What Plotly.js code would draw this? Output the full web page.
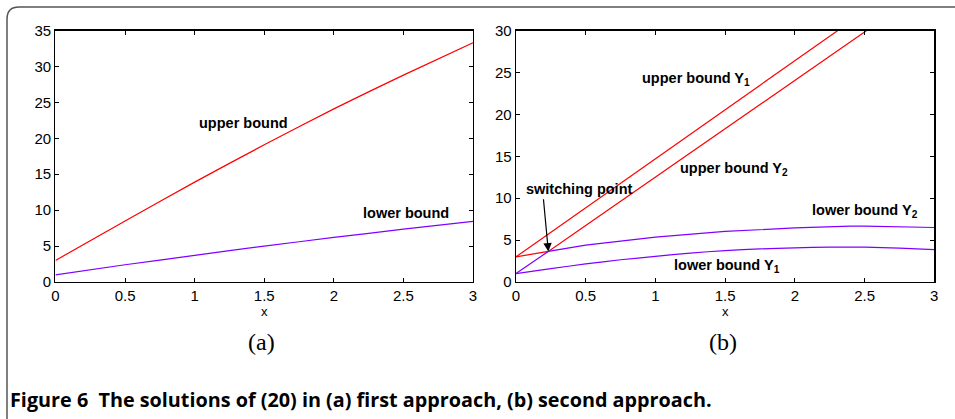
<!DOCTYPE html>
<html><head><meta charset="utf-8">
<script src="https://cdn.plot.ly/plotly-3.0.1.min.js"></script>
<style>html,body{margin:0;padding:0;background:#fff}#chart{width:955px;height:419px}</style>
</head><body><div id="chart"></div>
<script>
// Panel (a)
const xA = [0, 0.5, 1, 1.5, 2, 2.5, 3];
const upperA = [3.0, 8.5, 13.9, 19.1, 24.1, 28.8, 33.3];
const lowerA = [1.0, 2.4, 3.7, 5.0, 6.2, 7.35, 8.45];
// Panel (b)
const xUpperY1 = [0, 0.5, 1, 1.5, 2, 2.5, 3];
const upperY1 = [3.0, 8.85, 14.7, 20.6, 26.45, 32.3, 38.1];
const xUpperY2 = [0, 0.1, 0.232, 0.5, 1, 1.5, 2, 2.5, 3];
const upperY2 = [3.0, 3.25, 3.65, 6.75, 12.5, 18.3, 24.05, 29.8, 35.6];
const xLowerY2 = [0, 0.232, 0.5, 1, 1.5, 2, 2.4, 2.5, 3];
const lowerY2 = [1.0, 3.65, 4.4, 5.36, 6.03, 6.45, 6.67, 6.66, 6.5];
const xLowerY1 = [0, 0.25, 0.5, 0.75, 1, 1.25, 1.5, 1.75, 2, 2.25, 2.5, 2.75, 3];
const lowerY1 = [1.0, 1.6, 2.15, 2.65, 3.05, 3.45, 3.75, 3.95, 4.08, 4.15, 4.15, 4.05, 3.87];
const switchPoint = {x: 0.232, y: 3.65};
const xTicks = [0, 0.5, 1, 1.5, 2, 2.5, 3];
const xTickText = ['0', '0.5', '1', '1.5', '2', '2.5', '3'];

const RED = '#ff0000', PUR = '#8000ff';
const lw = 1.2;
const sp = {shape: 'spline', smoothing: 0.6};
const traces = [
  {x: xA, y: upperA, xaxis: 'x', yaxis: 'y', mode: 'lines', line: Object.assign({color: RED, width: lw}, sp)},
  {x: xA, y: lowerA, xaxis: 'x', yaxis: 'y', mode: 'lines', line: Object.assign({color: PUR, width: lw}, sp)},
  {x: xUpperY1, y: upperY1, xaxis: 'x2', yaxis: 'y2', mode: 'lines', line: {color: RED, width: lw}},
  {x: xUpperY2, y: upperY2, xaxis: 'x2', yaxis: 'y2', mode: 'lines', line: {color: RED, width: lw}},
  {x: xLowerY2, y: lowerY2, xaxis: 'x2', yaxis: 'y2', mode: 'lines', line: {color: PUR, width: lw}},
  {x: xLowerY1, y: lowerY1, xaxis: 'x2', yaxis: 'y2', mode: 'lines', line: Object.assign({color: PUR, width: lw}, sp)}
];

const tickFont = {family: 'Liberation Sans, Arial, sans-serif', size: 15, color: '#000'};
function xax(dom) {
  return {domain: dom, range: [0, 3], tickvals: xTicks, ticktext: xTickText, ticks: 'inside', ticklen: 4,
    tickcolor: '#000', mirror: 'ticks', showline: true, linecolor: '#000', linewidth: 1.3, showgrid: false,
    zeroline: false, tickfont: tickFont, fixedrange: true,
    title: {text: 'x', font: {family: 'Liberation Sans, Arial, sans-serif', size: 13, color: '#000'}, standoff: 0}};
}
function yax(rng, anchor) {
  return {domain: [0.327, 0.927], range: rng, dtick: 5, tick0: 0, ticks: 'inside', ticklen: 4, tickcolor: '#000',
    mirror: 'ticks', showline: true, linecolor: '#000', linewidth: 1.3, showgrid: false, zeroline: false,
    tickfont: tickFont, anchor: anchor, fixedrange: true};
}
const lblFont = {family: 'Liberation Sans, Arial, sans-serif', size: 14.5, color: '#000', weight: 700};
function lbl(xr, yr, x, y, text, xanchor) {
  return {xref: xr, yref: yr, x: x, y: y, text: text, showarrow: false, font: lblFont, xanchor: xanchor || 'center', yanchor: 'middle'};
}
const r = 12;
const fx = 7 / 955, fy = 1 - 7 / 419, rx = r / 955, ry = r / 419;
const framePath = `M ${fx},-0.02 L ${fx},${fy - ry} Q ${fx},${fy} ${fx + rx},${fy} L 1.02,${fy}`;

const layout = {
  width: 955, height: 419, margin: {l: 0, r: 0, t: 0, b: 0},
  paper_bgcolor: '#fff', plot_bgcolor: '#fff', showlegend: false,
  xaxis: Object.assign(xax([0.0581, 0.4953]), {anchor: 'y'}),
  yaxis: yax([0, 35], 'x'),
  xaxis2: Object.assign(xax([0.5403, 0.9783]), {anchor: 'y2'}),
  yaxis2: yax([0, 30], 'x2'),
  shapes: [{type: 'path', xref: 'paper', yref: 'paper', path: framePath, line: {color: '#555', width: 1.5}}],
  annotations: [
    lbl('x', 'y', 1.35, 22.2, 'upper bound'),
    lbl('x', 'y', 2.52, 9.6, 'lower bound'),
    lbl('x2', 'y2', 0.89, 24.2, 'upper bound Y<sub>1</sub>', 'left'),
    lbl('x2', 'y2', 1.16, 13.5, 'upper bound Y<sub>2</sub>', 'left'),
    lbl('x2', 'y2', 0.06, 11.1, 'switching point', 'left'),
    lbl('x2', 'y2', 2.11, 8.45, 'lower bound Y<sub>2</sub>', 'left'),
    lbl('x2', 'y2', 1.12, 1.9, 'lower bound Y<sub>1</sub>', 'left'),
    {xref: 'x2', yref: 'y2', x: switchPoint.x, y: switchPoint.y, axref: 'x2', ayref: 'y2', ax: 0.196, ay: 10.05,
     text: '', showarrow: true, arrowhead: 2, arrowsize: 1.4, arrowwidth: 1.2, arrowcolor: '#000'},
    {xref: 'paper', yref: 'paper', x: 261 / 955, y: 1 - 342 / 419, text: '(a)', showarrow: false,
     font: {family: 'Liberation Serif, serif', size: 24, color: '#000'}, xanchor: 'center', yanchor: 'middle'},
    {xref: 'paper', yref: 'paper', x: 723 / 955, y: 1 - 342 / 419, text: '(b)', showarrow: false,
     font: {family: 'Liberation Serif, serif', size: 24, color: '#000'}, xanchor: 'center', yanchor: 'middle'},
    {xref: 'paper', yref: 'paper', x: 8 / 955, y: 1 - 399 / 419, text: 'Figure 6  The solutions of (20) in (a) first approach, (b) second approach.',
     showarrow: false, font: {family: 'Open Sans, sans-serif', size: 19.8, color: '#000', weight: 700}, xanchor: 'left', yanchor: 'middle'}
  ]
};
Plotly.newPlot('chart', traces, layout, {staticPlot: true, displayModeBar: false});
</script></body></html>
